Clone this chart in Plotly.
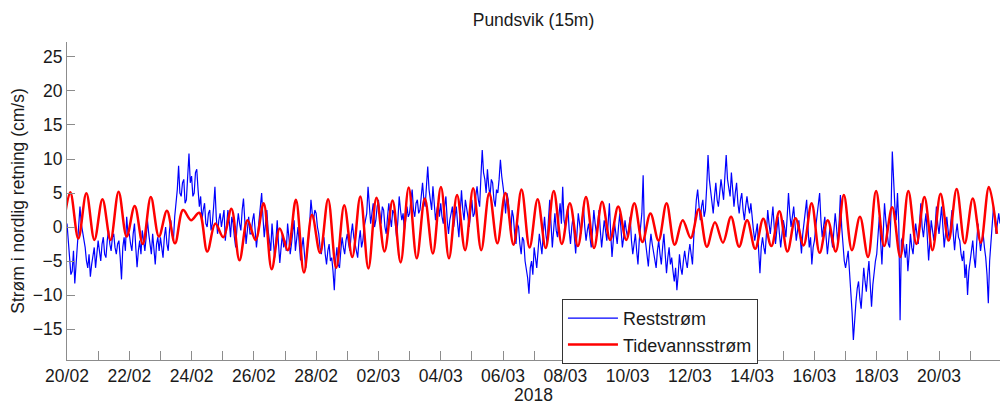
import pandas as pd
import plotly.graph_objects as go

START = pd.Timestamp("2018-02-20 00:00")
END = pd.Timestamp("2018-03-21 23:00")

# Residual current (cm/s), hourly samples, one row per day (20/02 .. 21/03)
reststrom_daily = [
    [0.5, -2.5, -4.0, -7.0, -6.5, -3.5, -8.3, -5.5, -4.0, -1.0, 3.0, 0.5, -0.5, -2.0, -3.0, -5.0, -6.0, -4.0, -7.3, -5.5, -4.5, -3.0, -6.0, -4.0],
    [-2.0, -3.5, -5.0, -2.5, -1.5, -4.0, -4.5, -2.0, -0.5, -2.5, -3.5, -1.5, -1.0, -3.0, -4.0, -2.5, -2.0, -4.5, -7.7, -3.0, -1.5, -3.5, 1.5, -1.0],
    [-1.0, -2.5, -3.5, -1.0, 0.5, -3.0, -5.9, -3.5, -2.0, -4.0, -0.5, -2.0, -3.5, -1.5, 1.0, -1.0, -2.5, -4.0, -1.0, -3.0, -5.5, -2.5, -1.5, -3.5],
    [-1.5, -3.0, -4.5, -1.5, 0.0, -2.5, -3.5, -0.5, 1.0, -1.0, -2.0, 1.5, 3.5, 5.5, 9.0, 5.0, 4.5, 6.5, 7.0, 3.5, 4.0, 7.5, 10.8, 6.5],
    [7.5, 4.5, 5.0, 8.0, 8.5, 5.5, 3.0, 4.5, 1.0, 2.5, 3.5, 0.5, 0.0, 2.0, 2.5, -0.5, 0.5, 3.0, 5.9, 1.5, -1.0, 1.0, 2.0, 0.0],
    [1.0, 2.5, -2.0, 0.0, 2.5, 1.0, -1.5, 1.5, 0.5, -1.5, -3.0, 0.0, 2.0, 0.5, -0.5, 2.5, 4.2, 1.0, -2.5, -0.5, 1.5, -1.0, -1.0, 1.0],
    [2.0, -0.5, -3.0, -1.0, 1.0, 3.0, 5.0, 1.5, -1.5, 0.5, 2.5, -0.5, -2.0, -3.5, 0.5, -1.5, -4.5, -2.0, 1.0, -2.5, -5.3, -3.0, -1.0, -3.0],
    [-2.0, -3.5, 0.5, -1.5, -4.0, -2.5, -1.0, 1.0, -3.5, -2.0, 0.0, -2.5, -4.9, -3.0, -1.5, -4.0, -6.0, -3.5, -2.0, 0.5, 4.0, 2.0, 1.0, 2.5],
    [2.0, 0.0, -1.0, -3.0, -4.0, -2.0, -1.5, -4.0, -5.5, -3.5, -2.5, -5.0, -4.5, -6.5, -9.3, -5.0, -3.0, -5.5, -6.0, -3.5, -1.5, -3.0, -4.0, -2.0],
    [-1.0, -2.5, -3.5, -1.0, 0.5, -1.5, -2.5, -4.0, -4.5, -2.0, -0.5, -3.0, -2.0, 0.0, 1.0, 2.0, 5.9, 2.5, 0.5, 2.0, 3.5, 0.0, 1.0, 3.0],
    [4.0, 2.0, 0.5, 3.0, 2.5, 0.0, -1.0, 1.5, 3.5, 1.5, 0.0, 2.5, 2.0, 0.5, -1.5, 1.0, 4.5, 2.5, 1.0, 2.0, -0.5, 1.0, 3.0, 1.5],
    [2.0, 4.0, 5.5, 2.5, 1.5, 3.5, 4.0, 2.0, 2.5, 4.5, 6.5, 4.0, 3.0, 6.0, 8.9, 5.5, 4.0, 2.5, 6.0, 3.5, 1.0, 2.5, 3.5, 1.5],
    [3.5, 1.5, 0.5, 3.0, 4.5, 1.0, -1.0, 1.0, 2.0, 3.0, 0.0, 1.5, 3.0, 0.5, -1.5, 2.0, 5.4, 2.5, 1.0, 4.0, 3.0, 1.5, 0.0, 2.5],
    [4.0, 1.5, 2.0, 4.5, 6.0, 4.0, 3.0, 7.5, 11.3, 8.0, 7.0, 5.0, 8.5, 6.0, 4.5, 7.0, 6.5, 4.0, 3.0, 5.5, 5.0, 7.0, 9.9, 7.5],
    [6.0, 4.5, 2.0, 5.0, 4.0, 1.0, -1.0, 2.5, 1.5, -1.0, -2.5, 0.5, 0.0, -2.5, -4.0, -1.5, -2.0, -5.0, -6.0, -7.5, -9.8, -6.0, -5.0, -7.0],
    [-3.0, -5.0, -6.0, -3.5, -1.0, -2.5, -4.0, -1.0, 1.5, -1.0, -2.5, 1.0, 4.0, 0.5, -3.0, -0.5, 2.0, -0.5, -1.5, 1.5, 3.5, 0.5, 5.9, 1.0],
    [0.0, 1.5, 3.0, -0.5, -2.5, 0.0, 1.5, -1.5, -3.9, -1.0, 2.0, 0.5, -1.0, 1.0, 3.0, 0.0, -2.0, -0.5, 0.5, -1.5, -3.0, -0.5, 2.5, 0.5],
    [-1.0, 0.5, 2.5, -0.5, -3.0, -1.0, 1.0, -0.5, -2.0, 0.5, 3.5, -1.0, -4.4, -2.0, 0.5, -1.0, -2.5, 0.0, 2.0, -0.5, -3.0, -1.5, 1.0, -0.5],
    [-1.5, 0.0, 1.5, -2.0, -4.0, -2.5, -1.0, -3.5, -5.5, -2.0, 0.0, 2.0, 7.6, -1.0, -2.5, -4.0, -5.8, -3.0, -1.0, -2.5, -3.5, -5.0, -6.0, -3.5],
    [-2.0, -4.0, -5.5, -3.0, -1.0, -4.0, -6.8, -4.5, -3.0, -5.5, -4.5, -6.5, -8.0, -6.0, -9.3, -7.0, -4.0, -6.0, -7.0, -5.0, -3.5, -5.0, -6.0, -4.0],
    [-2.5, -4.0, -5.5, -1.5, 2.0, 4.0, 5.5, 2.5, 1.0, 3.0, 4.0, 1.5, 2.5, 6.0, 10.6, 7.0, 5.0, 3.5, 2.0, 4.5, 6.5, 4.0, 3.0, 5.0],
    [7.0, 5.5, 4.0, 7.5, 10.6, 7.0, 6.0, 4.5, 8.0, 5.0, 3.0, 5.0, 6.5, 3.5, 2.0, 4.0, 5.0, 2.5, 1.0, 3.0, 4.5, 3.0, 2.0, 3.5],
    [1.0, -0.5, -2.0, -0.5, 0.5, -3.5, -6.8, -3.0, -1.5, -3.0, -4.0, -1.0, 2.5, 0.5, -1.0, 1.0, 3.0, 0.0, -2.5, -0.5, 1.5, -1.0, -3.0, -1.0],
    [1.0, 0.0, -1.5, 1.5, 5.0, 2.0, 0.0, 1.5, 3.0, 0.5, -2.0, -0.5, 1.0, -1.5, -3.9, -1.0, 0.5, 2.0, 4.0, 0.0, -3.0, -1.5, -5.5, -3.0],
    [-2.0, 0.0, 2.0, 3.5, 5.0, 1.0, -1.5, 0.0, 1.5, -1.5, -4.0, -2.0, 0.0, -1.5, -3.0, -0.5, 2.0, 0.0, -2.5, 0.5, 4.7, 0.0, -3.0, -5.0],
    [-6.0, -4.5, -3.5, -6.5, -9.0, -12.5, -16.6, -13.0, -11.0, -9.0, -8.0, -10.5, -12.0, -9.0, -6.0, -8.0, -9.5, -7.0, -5.0, -8.5, -11.7, -8.5, -6.5, -5.0],
    [-4.0, -1.5, 1.5, -2.0, -5.5, -1.0, 3.5, 1.0, -1.0, -2.5, -3.0, 2.0, 11.1, 5.5, 3.0, 1.0, 5.0, 0.5, -13.7, -2.0, -1.5, -3.0, -4.5, -2.5],
    [-6.5, -4.0, -1.0, -3.0, -4.0, -1.5, 0.5, -1.0, -2.5, 0.5, 3.5, 0.0, -1.5, 0.5, 2.0, -1.5, -4.9, -2.0, 1.0, -0.5, -2.0, 0.0, 3.0, 0.5],
    [-1.0, 1.0, 3.0, 0.0, -3.0, -1.0, 1.5, -0.5, -2.0, 0.5, 2.5, -1.0, -3.4, -1.0, 0.5, -1.5, -2.0, -4.0, -5.0, -3.5, -7.5, -5.5, -10.0, -6.5],
    [-5.0, -3.0, -2.0, -4.5, -6.0, -2.5, 0.5, -1.5, -3.5, -2.0, -1.0, -3.0, -4.5, -7.0, -11.2, -5.0, -2.0, 0.5, 3.0, 1.0, -1.0, 0.5, 2.0, 0.5],
]
reststrom = [v for day in reststrom_daily for v in day]
rest_time = pd.date_range(START, periods=len(reststrom), freq="1h")

# Tidal current (cm/s): successive highs and lows, one M2 half-period apart
tide_extrema = [
    -1.5,
    5.1, -1.7, 4.95, -1.9, 4.1, -1.9, 5.2, -1.4, 3.1, -2.5,
    4.4, -1.4, 2.4, -2.4, 2.5, 1.0, 2.1, -3.6, 0.5, -1.5,
    2.7, -4.9, 1.0, -1.9, 3.5, -6.2, -0.2, -3.4, 4.0, -6.7,
    1.8, -3.8, 4.1, -6.0, 3.2, -4.4, 4.5, -6.1, 4.3, -3.6,
    3.9, -5.2, 5.8, -4.6, 4.2, -3.9, 5.9, -4.6, 4.7, -3.4,
    5.7, -3.4, 5.0, -2.4, 5.0, -2.6, 5.5, -3.0, 4.1, -3.1,
    5.3, -2.5, 3.5, -2.8, 4.4, -3.1, 3.7, -1.9, 3.0, -1.9,
    3.5, -2.2, 2.0, -2.0, 3.5, -2.6, 1.0, -1.6, 2.6, -2.9,
    0.7, -2.3, 1.5, -2.9, 1.0, -3.2, 1.2, -2.8, 2.3, -3.6,
    1.3, -2.7, 3.5, -3.8, 1.0, -3.6, 4.7, -3.4, 1.5, -4.4,
    5.3, -2.8, 2.9, -4.4, 5.3, -2.5, 4.4, -3.4, 4.9, -2.0,
    5.6, -2.4, 4.2, -2.3, 5.9, -1.0,
]
HALF_PERIOD = pd.Timedelta(hours=6.21)
tide_first = START + pd.Timedelta(hours=2.5) - HALF_PERIOD
tide_time = [tide_first + i * HALF_PERIOD for i in range(len(tide_extrema))]

# Daily ticks, labelled every second day
tick_dates = pd.date_range(START, "2018-03-21", freq="D")
tick_text = [d.strftime("%d/%m") if i % 2 == 0 else "" for i, d in enumerate(tick_dates)]
y_ticks = [-15, -10, -5, 0, 5, 10, 15, 20, 25]

FONT = "Liberation Sans, Arial, sans-serif"
AXIS_GREY = "#8c8c8c"
TEXT = "#1a1a1a"
FS = 17.5

fig = go.Figure()
fig.add_trace(go.Scatter(
    x=rest_time, y=reststrom, mode="lines", name="Reststrøm",
    line=dict(color="#0000ff", width=1.2),
))
fig.add_trace(go.Scatter(
    x=tide_time, y=tide_extrema, mode="lines", name="Tidevannsstrøm",
    line=dict(color="#ff0000", width=2.5, shape="spline", smoothing=1.0),
))

fig.update_layout(
    width=1000, height=405,
    margin=dict(l=67, r=0, t=42, b=45),
    paper_bgcolor="white", plot_bgcolor="white",
    font=dict(family=FONT, size=FS, color=TEXT),
    title=dict(text="Pundsvik (15m)", x=0.5, xref="paper", xanchor="center",
               y=1 - 20 / 405, yref="container", yanchor="middle",
               font=dict(size=FS, color=TEXT)),
    showlegend=True,
    legend=dict(x=0.5305, y=0.192, xanchor="left", yanchor="top",
                bgcolor="white", bordercolor="#333333", borderwidth=1,
                itemwidth=50,
                font=dict(size=18, color=TEXT), tracegroupgap=0),
)
fig.update_xaxes(
    range=[START, END],
    tickmode="array", tickvals=tick_dates, ticktext=tick_text,
    ticks="inside", ticklen=9, tickcolor=AXIS_GREY, tickwidth=1,
    showline=True, linecolor=AXIS_GREY, linewidth=1,
    showgrid=False, zeroline=False,
    tickfont=dict(size=FS, color=TEXT),
    title=dict(text="2018", standoff=4, font=dict(size=FS, color=TEXT)),
)
fig.update_yaxes(
    range=[-19.55, 27.2],
    tickmode="array", tickvals=y_ticks,
    ticks="inside", ticklen=8, tickcolor=AXIS_GREY, tickwidth=1,
    showline=True, linecolor=AXIS_GREY, linewidth=1,
    showgrid=False, zeroline=False,
    tickfont=dict(size=FS, color=TEXT),
    title=dict(text="Strøm i nordlig retning (cm/s)", standoff=3,
               font=dict(size=FS, color=TEXT)),
)

fig.write_html("out.html")
